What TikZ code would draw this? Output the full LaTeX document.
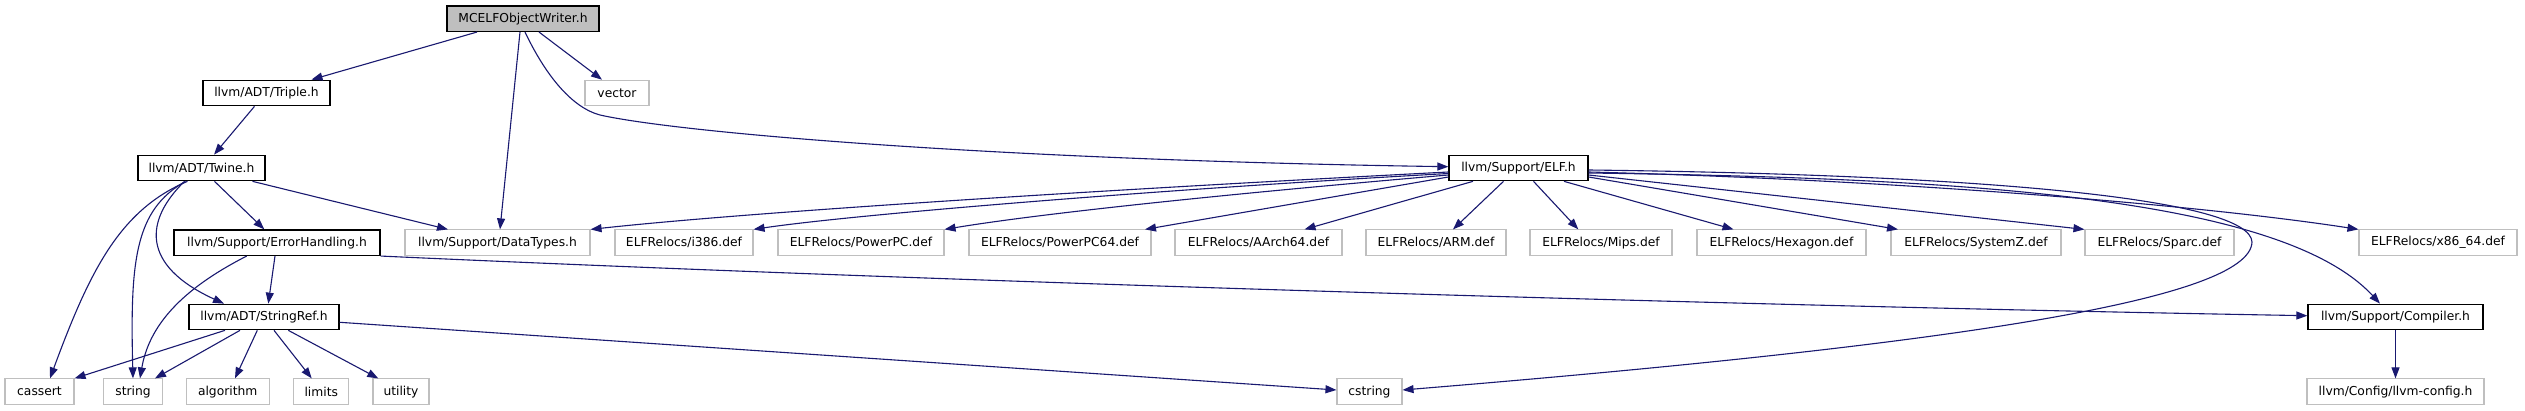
\documentclass[tikz,border=0pt]{standalone}
\usepackage{fontspec}
\setmainfont{DejaVu Sans}
\usetikzlibrary{arrows.meta,calc}
\definecolor{edgeblue}{RGB}{25,25,112}
\definecolor{leafgray}{RGB}{191,191,191}

\begin{document}
\begin{tikzpicture}[x=1pt, y=-1pt, font=\fontsize{12.3pt}{14pt}\selectfont,
  hdr/.style={draw=black, line width=1.2pt, fill=white, minimum height=25.5pt, inner sep=0pt},
  leaf/.style={draw=leafgray, line width=1.1pt, fill=white, minimum height=25.5pt, inner sep=0pt},
  dep/.style={draw=edgeblue, line width=1.1pt, -{Triangle[length=11pt,width=8pt]}}]
\fill[white] (0,0) rectangle (2525,411);
\useasboundingbox (0,0) rectangle (2525,411);

% headers
\node[hdr, fill=leafgray, minimum width=152pt] (mcelf) at (523,18.7) {MCELFObjectWriter.h};
\node[hdr, minimum width=127pt] (triple) at (266.5,93) {llvm/ADT/Triple.h};
\node[leaf, minimum width=64pt] (vector) at (617,93) {vector};
\node[hdr, minimum width=127pt] (twine) at (201.5,168) {llvm/ADT/Twine.h};
\node[hdr, minimum width=139pt] (elf) at (1518.5,168) {llvm/Support/ELF.h};
\node[hdr, minimum width=206pt] (errh) at (277,242.7) {llvm/Support/ErrorHandling.h};
\node[leaf, minimum width=185pt] (datatypes) at (497.5,242.7) {llvm/Support/DataTypes.h};
\node[leaf, minimum width=138pt] (i386) at (684,242.7) {ELFRelocs/i386.def};
\node[leaf, minimum width=166pt] (ppc) at (861,242.7) {ELFRelocs/PowerPC.def};
\node[leaf, minimum width=182pt] (ppc64) at (1060,242.7) {ELFRelocs/PowerPC64.def};
\node[leaf, minimum width=167pt] (aarch64) at (1258.5,242.7) {ELFRelocs/AArch64.def};
\node[leaf, minimum width=140pt] (arm) at (1436,242.7) {ELFRelocs/ARM.def};
\node[leaf, minimum width=142pt] (mips) at (1601,242.7) {ELFRelocs/Mips.def};
\node[leaf, minimum width=169pt] (hexagon) at (1781.5,242.7) {ELFRelocs/Hexagon.def};
\node[leaf, minimum width=170pt] (systemz) at (1976,242.7) {ELFRelocs/SystemZ.def};
\node[leaf, minimum width=149pt] (sparc) at (2159.5,242.7) {ELFRelocs/Sparc.def};
\node[leaf, minimum width=158pt] (x8664) at (2438,242.7) {ELFRelocs/x86\_64.def};
\node[hdr, minimum width=150pt] (stringref) at (264,317) {llvm/ADT/StringRef.h};
\node[hdr, minimum width=175pt] (compiler) at (2395.5,317) {llvm/Support/Compiler.h};
% system headers
\node[leaf, minimum width=69pt] (cassert) at (39.5,391.7) {cassert};
\node[leaf, minimum width=59pt] (string) at (133,391.7) {string};
\node[leaf, minimum width=83pt] (algorithm) at (227.7,391.7) {algorithm};
\node[leaf, minimum width=55pt] (limits) at (321.3,391.7) {limits};
\node[leaf, minimum width=56pt] (utility) at (401,391.7) {utility};
\node[leaf, minimum width=65pt] (cstring) at (1369.5,391.7) {cstring};
\node[leaf, minimum width=177pt] (llvmconfig) at (2395.5,391.7) {llvm/Config/llvm-config.h};

% includes
\draw[dep] ($(mcelf.south)+(-46,0)$) -- ($(triple.north)+(45,0)$);
\draw[dep] ($(mcelf.south)+(-3,0)$) -- ($(datatypes.north)+(2.5,0)$);
\draw[dep] ($(mcelf.south)+(16,0)$) -- ($(vector.north)+(-15,0)$);
\draw[dep] ($(mcelf.south)+(2,0)$) .. controls (544,72) and (570,107) .. (600,115)
  .. controls (680,133) and (1000,160) .. ($(elf.west)+(0,-1.3)$);
\draw[dep] ($(triple.south)+(-12,0)$) -- ($(twine.north)+(12.5,0)$);
\draw[dep] ($(twine.south)+(13,0)$) -- ($(errh.north)+(-12.7,0)$);
\draw[dep] ($(twine.south)+(51,0)$) -- ($(datatypes.north)+(-49.5,0)$);
\draw[dep] ($(twine.south)+(-17,0)$) .. controls (145,220) and (140,265) .. ($(stringref.north)+(-40,0)$);
\draw[dep] ($(twine.south)+(-14,0)$) .. controls (120,210) and (90,270) .. ($(cassert.north)+(10.5,0)$);
\draw[dep] ($(twine.south)+(-16,0)$) .. controls (135,210) and (130,260) .. (string.north);
\draw[dep] ($(errh.south)+(-2,0)$) -- ($(stringref.north)+(4.3,0)$);
\draw[dep] ($(errh.south)+(-30.3,0)$) .. controls (190,285) and (150,320) .. ($(string.north)+(7,0)$);
\draw[dep] (errh.south east) .. controls (900,280) and (1700,305) .. ($(compiler.west)+(0,-1.3)$);
\draw[dep] ($(stringref.south)+(-39,0)$) -- (cassert.north east);
\draw[dep] ($(stringref.south)+(-24,0)$) -- ($(string.north)+(22,0)$);
\draw[dep] ($(stringref.south)+(-6.7,0)$) -- ($(algorithm.north)+(7.3,0)$);
\draw[dep] ($(stringref.south)+(10,0)$) -- ($(limits.north)+(-9.6,0)$);
\draw[dep] ($(stringref.south)+(24.3,0)$) -- ($(utility.north)+(-22.7,0)$);
\draw[dep] ($(stringref.east)+(0,5.3)$) -- ($(cstring.west)+(0,-1.7)$);
% ELF.h
\draw[dep] ($(elf.west)+(0,4)$) .. controls (1100,190) and (750,212) .. (datatypes.north east);
\draw[dep] ($(elf.west)+(0,5.5)$) .. controls (1150,190) and (850,215) .. (i386.north east);
\draw[dep] ($(elf.west)+(0,7)$) .. controls (1250,192) and (1050,212) .. (ppc.north east);
\draw[dep] ($(elf.west)+(0,9)$) -- ($(ppc64.north)+(85,0)$);
\draw[dep] ($(elf.south)+(-45.5,0)$) -- ($(aarch64.north)+(46,0)$);
\draw[dep] ($(elf.south)+(-15,0)$) -- ($(arm.north)+(17,0)$);
\draw[dep] ($(elf.south)+(15,0)$) -- ($(mips.north)+(-22.7,0)$);
\draw[dep] ($(elf.south)+(45.5,0)$) -- ($(hexagon.north)+(-48,0)$);
\draw[dep] ($(elf.east)+(0,9)$) -- ($(systemz.north)+(-78,0)$);
\draw[dep] ($(elf.east)+(0,7)$) -- (sparc.north west);
\draw[dep] ($(elf.east)+(0,4)$) .. controls (1900,180) and (2200,205) .. (x8664.north west);
\draw[dep] ($(elf.east)+(0,5)$) .. controls (1950,178) and (2280,195) .. ($(compiler.north)+(-15.5,0)$);
\draw[dep] ($(elf.east)+(0,2)$) .. controls (2000,175) and (2250,200) .. (2252,242)
  .. controls (2250,300) and (1950,345) .. ($(cstring.east)+(0,-1.7)$);
\draw[dep] (compiler.south) -- (llvmconfig.north);
\end{tikzpicture}
\end{document}
